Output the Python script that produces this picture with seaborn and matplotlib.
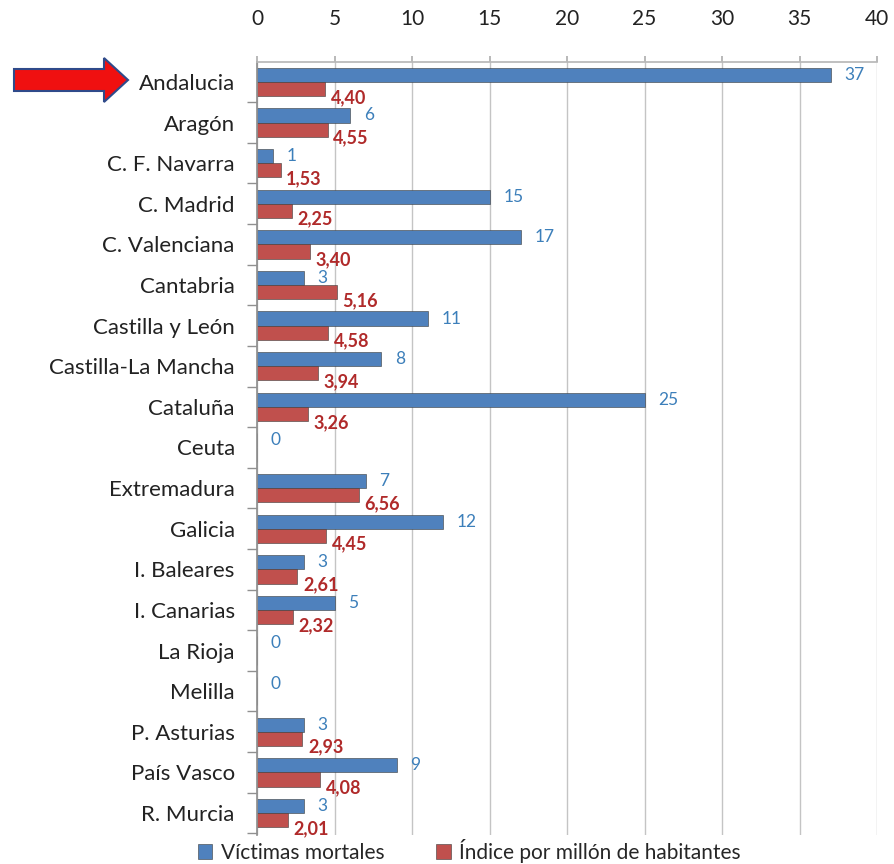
import numpy as np
import pandas as pd
import seaborn as sns
import matplotlib.pyplot as plt
from matplotlib.patches import FancyArrow

regiones = ["Andalucia", "Aragón", "C. F. Navarra", "C. Madrid", "C. Valenciana",
            "Cantabria", "Castilla y León", "Castilla-La Mancha", "Cataluña", "Ceuta",
            "Extremadura", "Galicia", "I. Baleares", "I. Canarias", "La Rioja",
            "Melilla", "P. Asturias", "País Vasco", "R. Murcia"]
victimas = [37, 6, 1, 15, 17, 3, 11, 8, 25, 0, 7, 12, 3, 5, 0, 0, 3, 9, 3]
indice = [4.40, 4.55, 1.53, 2.25, 3.40, 5.16, 4.58, 3.94, 3.26, 0, 6.56, 4.45,
          2.61, 2.32, 0, 0, 2.93, 4.08, 2.01]
series = ["Víctimas mortales", "Índice por millón de habitantes"]
xticks = [0, 5, 10, 15, 20, 25, 30, 35, 40]

blue = "#4f81bd"
red = "#c0504d"

df = pd.concat([
    pd.DataFrame({"Comunidad": regiones, "Valor": victimas, "Serie": series[0]}),
    pd.DataFrame({"Comunidad": regiones, "Valor": indice, "Serie": series[1]}),
])

sns.set_theme(style="white")
plt.rcParams["font.family"] = ["Lato", "DejaVu Sans"]

fig = plt.figure(figsize=(8.94, 8.64), dpi=100)
ax = fig.add_axes([0.2875, 0.0336, 0.6935, 0.8946])

sns.barplot(data=df, y="Comunidad", x="Valor", hue="Serie", orient="h",
            palette=[blue, red], saturation=1, width=0.7, ax=ax,
            edgecolor="#3a3a3a", linewidth=0.4)

ax.set_xlim(0, 40)
ax.set_ylim(18.54, -0.49)
ax.set_xticks(xticks)
ax.xaxis.tick_top()
ax.tick_params(axis="x", labelsize=15, length=4, color="#b0b0b0", colors="#222222", pad=20)
ax.tick_params(axis="y", which="major", length=0, labelsize=16, labelcolor="#222222", pad=16)
ax.set_yticks(np.arange(len(regiones)) + 0.5, minor=True)
ax.tick_params(axis="y", which="minor", length=7, color="#909090", direction="out", left=True)
ax.set_xlabel("")
ax.set_ylabel("")
ax.grid(axis="x", color="#c4c4c4", linewidth=1)
ax.set_axisbelow(True)
for s in ["right", "bottom"]:
    ax.spines[s].set_visible(False)
ax.spines["top"].set_color("#b8b8b8")
ax.spines["left"].set_color("#909090")

# value labels
for p, v in zip(ax.containers[0], victimas):
    yc = p.get_y() + p.get_height() / 2
    ax.annotate(str(v), (p.get_width(), yc), xytext=(10, 0), textcoords="offset points",
                ha="left", va="center", fontsize=12.5, color="#3c7fba")
for p, v in zip(ax.containers[1], indice):
    if v == 0:
        continue
    yc = p.get_y() + p.get_height() / 2
    ax.annotate(f"{v:.2f}".replace(".", ","), (p.get_width(), yc), xytext=(4, -6),
                textcoords="offset points", ha="left", va="center", fontsize=13,
                color="#b02a2a", fontweight="bold")

handles, labels = ax.get_legend_handles_labels()
ax.legend_.remove()
fig.legend(handles, labels, loc="lower center", bbox_to_anchor=(0.525, -0.02), ncol=2,
           frameon=False, fontsize=15, handlelength=0.7, handleheight=0.7,
           columnspacing=2.5, handletextpad=0.4)

# red arrow pointing at Andalucia
over = fig.add_axes([0, 0, 1, 1], facecolor="none")
over.set_xlim(0, 894)
over.set_ylim(864, 0)
over.axis("off")
over.add_patch(FancyArrow(14, 80, 114, 0, width=22, head_width=44, head_length=24,
                          length_includes_head=True, facecolor="#f01010",
                          edgecolor="#2f4a8a", linewidth=1.5))

fig.savefig("out.png", dpi=100)
